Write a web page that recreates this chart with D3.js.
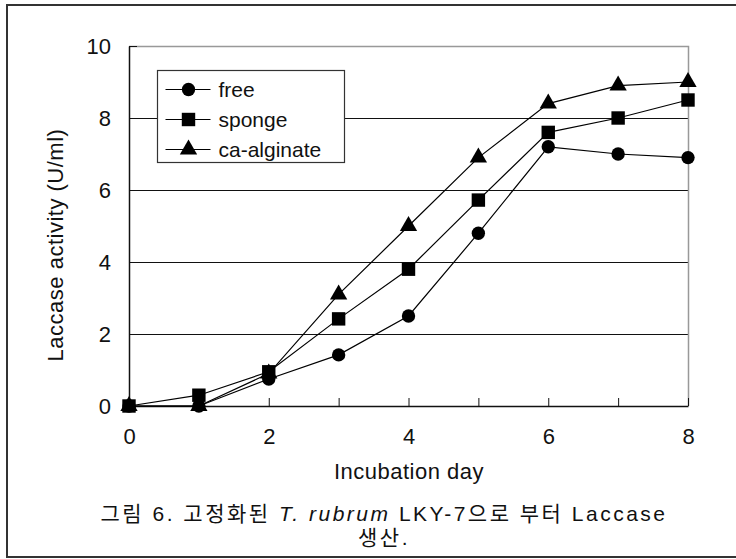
<!DOCTYPE html>
<html>
<head>
<meta charset="utf-8">
<script src="https://cdn.jsdelivr.net/npm/d3@7"></script>
<style>
  body { margin: 0; background: #fff; }
  text { font-family: "Liberation Sans", Arial, "Noto Sans CJK KR", sans-serif; fill: #111; }
</style>
</head>
<body>
<div id="chart"></div>
<script>
// Laccase activity chart

// Data
var days = [0, 1, 2, 3, 4, 5, 6, 7, 8];
var free = [0, 0, 0.75, 1.42, 2.5, 4.8, 7.2, 7.0, 6.9];
var sponge = [0, 0.3, 0.95, 2.42, 3.8, 5.72, 7.6, 8.0, 8.5];
var caAlginate = [0, 0, 0.9, 3.1, 5.0, 6.9, 8.4, 8.9, 9.0];
var seriesNames = ["free", "sponge", "ca-alginate"];
var xTickLabels = [0, 2, 4, 6, 8];
var yTickLabels = [0, 2, 4, 6, 8, 10];

var svgWidth = 736;
var svgHeight = 559;

var margin = { top: 46, right: 48, bottom: 153, left: 129 };
var width = 688 - margin.left;
var height = 406 - margin.top;

var svg = d3.select("#chart").append("svg")
  .attr("width", svgWidth)
  .attr("height", svgHeight);

// outer frame
svg.append("rect")
  .attr("x", 7)
  .attr("y", 5)
  .attr("width", 740)
  .attr("height", 552)
  .attr("fill", "none")
  .attr("stroke", "#333")
  .attr("stroke-width", 2);

var chartGroup = svg.append("g")
  .attr("transform", `translate(${margin.left}, ${margin.top})`);

var xScale = d3.scaleLinear().domain([0, 8]).range([0, width]);
var yScale = d3.scaleLinear().domain([0, 10]).range([height, 0]);

// gridlines
chartGroup.selectAll(".grid")
  .data(yTickLabels.filter(d => d > 0 && d < 10))
  .enter()
  .append("line")
  .attr("x1", 0)
  .attr("x2", width)
  .attr("y1", d => Math.round(yScale(d)) + 0.5)
  .attr("y2", d => Math.round(yScale(d)) + 0.5)
  .attr("stroke", "#111")
  .attr("stroke-width", 1);

// top and right border (gray)
chartGroup.append("path")
  .attr("d", `M0,${yScale(10) + 0.5}H${width + 0.5}V${height}`)
  .attr("fill", "none")
  .attr("stroke", "#999")
  .attr("stroke-width", 1.5);

// axes
var leftAxis = d3.axisLeft(yScale)
  .tickValues(yTickLabels)
  .tickSizeInner(-8)
  .tickSizeOuter(0)
  .tickPadding(18);

var bottomAxis = d3.axisBottom(xScale)
  .tickValues(days)
  .tickSizeInner(-8)
  .tickSizeOuter(0)
  .tickFormat(d => xTickLabels.indexOf(d) >= 0 ? d : "")
  .tickPadding(18);

var yAxis = chartGroup.append("g").call(leftAxis);
var xAxis = chartGroup.append("g")
  .attr("transform", `translate(0, ${height})`)
  .call(bottomAxis);

[xAxis, yAxis].forEach(function(ax) {
  ax.select(".domain").attr("stroke", "#111").attr("stroke-width", 1.5);
  ax.selectAll(".tick line").attr("stroke", "#111").attr("stroke-width", 1);
  ax.selectAll("text")
    .attr("font-size", "22px")
    .attr("font-family", "Liberation Sans, Arial, sans-serif")
    .attr("fill", "#222");
});
xAxis.selectAll("text").attr("dy", "0.9em");

// lines and markers
var symbols = [d3.symbolCircle, d3.symbolSquare, d3.symbolTriangle];
var symbolSizes = [140, 180, 130];
var allSeries = [free, sponge, caAlginate];

var line = d3.line()
  .x((d, i) => xScale(days[i]))
  .y(d => yScale(d));

allSeries.forEach(function(values, s) {
  chartGroup.append("path")
    .datum(values)
    .attr("d", line)
    .attr("fill", "none")
    .attr("stroke", "#000")
    .attr("stroke-width", 1.2);
});

allSeries.forEach(function(values, s) {
  chartGroup.selectAll(".pt" + s)
    .data(values)
    .enter()
    .append("path")
    .attr("transform", (d, i) => `translate(${xScale(days[i])}, ${yScale(d)})`)
    .attr("d", d3.symbol().type(symbols[s]).size(symbolSizes[s]))
    .attr("fill", "#000");
});

// legend
var legend = svg.append("g").attr("transform", "translate(157.5, 70.5)");
legend.append("rect")
  .attr("width", 187)
  .attr("height", 92)
  .attr("fill", "#fff")
  .attr("stroke", "#333")
  .attr("stroke-width", 1.2);

seriesNames.forEach(function(name, i) {
  var ly = 19 + i * 30;
  legend.append("line")
    .attr("x1", 8).attr("x2", 53)
    .attr("y1", ly).attr("y2", ly)
    .attr("stroke", "#000")
    .attr("stroke-width", 1.2);
  legend.append("path")
    .attr("transform", `translate(31, ${ly})`)
    .attr("d", d3.symbol().type(symbols[i]).size(symbolSizes[i]))
    .attr("fill", "#000");
  legend.append("text")
    .attr("x", 61)
    .attr("y", ly)
    .attr("dy", "0.35em")
    .attr("font-size", "21px")
    .text(name);
});

// axis titles
svg.append("text")
  .attr("transform", "translate(55, 245) rotate(-90)")
  .attr("text-anchor", "middle")
  .attr("dy", "0.35em")
  .attr("font-size", "22px")
  .attr("letter-spacing", "0.5px")
  .text("Laccase activity (U/ml)");

svg.append("text")
  .attr("x", 409)
  .attr("y", 471)
  .attr("text-anchor", "middle")
  .attr("dy", "0.35em")
  .attr("font-size", "22px")
  .attr("letter-spacing", "0.5px")
  .text("Incubation day");

// caption
var caption = svg.append("text")
  .attr("x", 384)
  .attr("y", 514)
  .attr("text-anchor", "middle")
  .attr("dy", "0.35em")
  .attr("font-size", "21px")
  .attr("letter-spacing", "2.5px");
caption.append("tspan").text("그림 6. 고정화된 ");
caption.append("tspan").attr("font-style", "italic").text("T. rubrum");
caption.append("tspan").text(" LKY-7으로 부터 Laccase");

svg.append("text")
  .attr("x", 384)
  .attr("y", 538)
  .attr("text-anchor", "middle")
  .attr("dy", "0.35em")
  .attr("font-size", "21px")
  .attr("letter-spacing", "2.5px")
  .text("생산.");
</script>
</body>
</html>
